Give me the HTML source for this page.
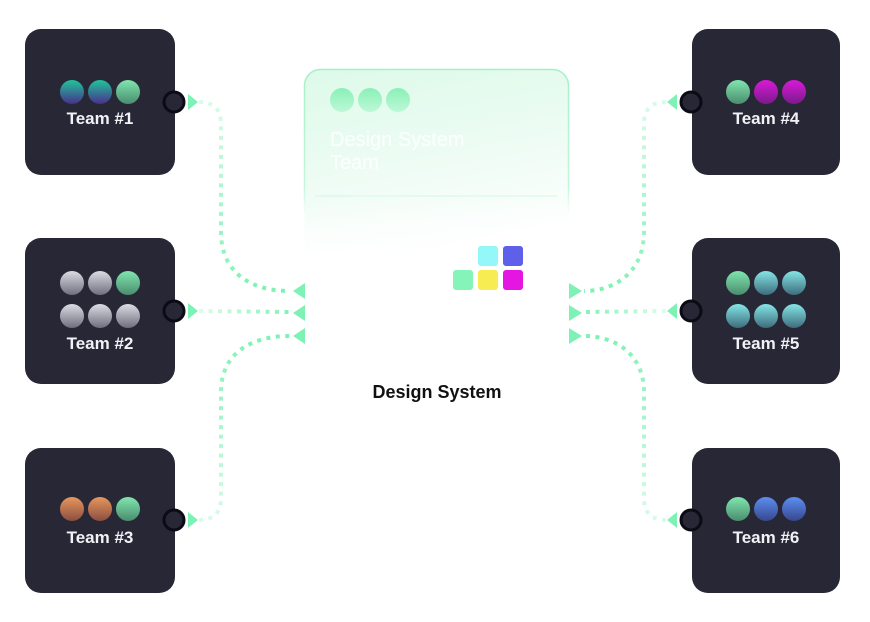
<!DOCTYPE html>
<html><head><meta charset="utf-8"><style>
html,body{margin:0;padding:0;background:#fff;}
svg{display:block;}
text{font-family:"Liberation Sans",sans-serif;}
</style></head><body>
<svg width="870" height="622" viewBox="0 0 870 622" xmlns="http://www.w3.org/2000/svg">
<defs>
  <linearGradient id="cardFill" x1="0" y1="0" x2="0.25" y2="1">
    <stop offset="0" stop-color="#ddfae9"/>
    <stop offset="0.55" stop-color="#eefcf4"/>
    <stop offset="1" stop-color="#ffffff"/>
  </linearGradient>
  <linearGradient id="cardStroke" gradientUnits="userSpaceOnUse" x1="0" y1="69" x2="0" y2="215">
    <stop offset="0" stop-color="#a4f0c8"/>
    <stop offset="0.8" stop-color="#c4f6dc"/>
    <stop offset="1" stop-color="#c4f6dc" stop-opacity="0"/>
  </linearGradient>
  <linearGradient id="fadeW" x1="0" y1="0" x2="0" y2="1">
    <stop offset="0" stop-color="#fff" stop-opacity="0"/>
    <stop offset="1" stop-color="#fff" stop-opacity="1"/>
  </linearGradient>
  <linearGradient id="gCard" x1="0" y1="0" x2="0" y2="1">
    <stop offset="0" stop-color="#8af0b6"/><stop offset="1" stop-color="#bdf8d8"/>
  </linearGradient>
  <linearGradient id="gTeal" x1="0" y1="0" x2="0" y2="1">
    <stop offset="0" stop-color="#20c49a"/><stop offset="1" stop-color="#4a2f8e"/>
  </linearGradient>
  <linearGradient id="gGreen" x1="0" y1="0" x2="0" y2="1">
    <stop offset="0" stop-color="#80e6ae"/><stop offset="1" stop-color="#4a8c6e"/>
  </linearGradient>
  <linearGradient id="gGray" x1="0" y1="0" x2="0" y2="1">
    <stop offset="0" stop-color="#dcdce4"/><stop offset="1" stop-color="#6e6e7e"/>
  </linearGradient>
  <linearGradient id="gOrange" x1="0" y1="0" x2="0" y2="1">
    <stop offset="0" stop-color="#e8965e"/><stop offset="1" stop-color="#8a4e40"/>
  </linearGradient>
  <linearGradient id="gMag" x1="0" y1="0" x2="0" y2="1">
    <stop offset="0" stop-color="#d91ad8"/><stop offset="1" stop-color="#7a1a8a"/>
  </linearGradient>
  <linearGradient id="gCyan" x1="0" y1="0" x2="0" y2="1">
    <stop offset="0" stop-color="#84e6e6"/><stop offset="1" stop-color="#3e6c7c"/>
  </linearGradient>
  <linearGradient id="gBlue" x1="0" y1="0" x2="0" y2="1">
    <stop offset="0" stop-color="#5c8ef0"/><stop offset="1" stop-color="#37468e"/>
  </linearGradient>
  <linearGradient id="l1" gradientUnits="userSpaceOnUse" x1="0" y1="102" x2="0" y2="291">
    <stop offset="0" stop-color="#7ef2b4" stop-opacity="0.3"/><stop offset="1" stop-color="#7ef2b4"/>
  </linearGradient>
  <linearGradient id="l3" gradientUnits="userSpaceOnUse" x1="0" y1="520" x2="0" y2="336">
    <stop offset="0" stop-color="#7ef2b4" stop-opacity="0.3"/><stop offset="1" stop-color="#7ef2b4"/>
  </linearGradient>
  <linearGradient id="l2" gradientUnits="userSpaceOnUse" x1="198" y1="0" x2="293" y2="0">
    <stop offset="0" stop-color="#7ef2b4" stop-opacity="0.25"/><stop offset="1" stop-color="#7ef2b4"/>
  </linearGradient>
  <linearGradient id="r2" gradientUnits="userSpaceOnUse" x1="666" y1="0" x2="582" y2="0">
    <stop offset="0" stop-color="#7ef2b4" stop-opacity="0.25"/><stop offset="1" stop-color="#7ef2b4"/>
  </linearGradient>
</defs>

<!-- center card -->
<rect x="304.5" y="69.5" width="264" height="200" rx="16" fill="url(#cardFill)" stroke="url(#cardStroke)" stroke-width="1.5"/>
<line x1="315" y1="196" x2="557" y2="196" stroke="#d4f8e6" stroke-width="1"/>
<circle cx="342" cy="100" r="12" fill="url(#gCard)"/>
<circle cx="370" cy="100" r="12" fill="url(#gCard)"/>
<circle cx="398" cy="100" r="12" fill="url(#gCard)"/>
<text x="330" y="146" font-size="20" fill="#ffffff" fill-opacity="0.9">Design System</text>
<text x="330" y="169" font-size="20" fill="#ffffff" fill-opacity="0.9">Team</text>
<rect x="300" y="200" width="275" height="72" fill="url(#fadeW)"/>
<rect x="300" y="256" width="275" height="30" fill="#fff"/>

<!-- block icon -->
<rect x="478" y="246" width="20" height="20" rx="3" fill="#94f8f8"/>
<rect x="503" y="246" width="20" height="20" rx="3" fill="#5e60ea"/>
<rect x="453" y="270" width="20" height="20" rx="3" fill="#84f4b8"/>
<rect x="478" y="270" width="20" height="20" rx="3" fill="#f7ec52"/>
<rect x="503" y="270" width="20" height="20" rx="3" fill="#e616e2"/>
<text x="437" y="398" font-size="18" font-weight="bold" fill="#111" text-anchor="middle">Design System</text>

<!-- connectors -->
<g fill="none" stroke-width="4" stroke-dasharray="4 5.5">
  <path d="M199,102 Q221,102 221,124 L221,232 C221,272 250,291 290,291" stroke="url(#l1)"/>
  <path d="M199,311 L290,312" stroke="url(#l2)"/>
  <path d="M199,520 Q221,520 221,498 L221,392 C221,354 250,336 290,336" stroke="url(#l3)"/>
  <path d="M666,102 Q644,102 644,124 L644,232 C644,272 615,291 584,291" stroke="url(#l1)"/>
  <path d="M666,311 L584,312" stroke="url(#r2)"/>
  <path d="M666,520 Q644,520 644,498 L644,392 C644,354 615,336 584,336" stroke="url(#l3)"/>
</g>
<g fill="#7ef2b4">
  <polygon points="293,291 305,283 305,299"/>
  <polygon points="293,313 305,305 305,321"/>
  <polygon points="293,336 305,328 305,344"/>
  <polygon points="582,291 569,283 569,299"/>
  <polygon points="582,313 569,305 569,321"/>
  <polygon points="582,336 569,328 569,344"/>
  <polygon points="188,94 198,102 188,110"/>
  <polygon points="188,303 198,311 188,319"/>
  <polygon points="188,512 198,520 188,528"/>
  <polygon points="677,94 667,102 677,110"/>
  <polygon points="677,303 667,311 677,319"/>
  <polygon points="677,512 667,520 677,528"/>
</g>

<!-- team boxes -->
<g fill="#272735">
  <rect x="25" y="29" width="150" height="146" rx="16"/>
  <rect x="25" y="238" width="150" height="146" rx="16"/>
  <rect x="25" y="448" width="150" height="145" rx="16"/>
  <rect x="692" y="29" width="148" height="146" rx="16"/>
  <rect x="692" y="238" width="148" height="146" rx="16"/>
  <rect x="692" y="448" width="148" height="145" rx="16"/>
</g>

<circle cx="72" cy="92" r="12" fill="url(#gTeal)"/>
<circle cx="100" cy="92" r="12" fill="url(#gTeal)"/>
<circle cx="128" cy="92" r="12" fill="url(#gGreen)"/>
<text x="100" y="124" font-size="17" font-weight="bold" fill="#f2f2f6" text-anchor="middle">Team #1</text>

<circle cx="72" cy="283" r="12" fill="url(#gGray)"/>
<circle cx="100" cy="283" r="12" fill="url(#gGray)"/>
<circle cx="128" cy="283" r="12" fill="url(#gGreen)"/>
<circle cx="72" cy="316" r="12" fill="url(#gGray)"/>
<circle cx="100" cy="316" r="12" fill="url(#gGray)"/>
<circle cx="128" cy="316" r="12" fill="url(#gGray)"/>
<text x="100" y="349" font-size="17" font-weight="bold" fill="#f2f2f6" text-anchor="middle">Team #2</text>

<circle cx="72" cy="509" r="12" fill="url(#gOrange)"/>
<circle cx="100" cy="509" r="12" fill="url(#gOrange)"/>
<circle cx="128" cy="509" r="12" fill="url(#gGreen)"/>
<text x="100" y="543" font-size="17" font-weight="bold" fill="#f2f2f6" text-anchor="middle">Team #3</text>

<circle cx="738" cy="92" r="12" fill="url(#gGreen)"/>
<circle cx="766" cy="92" r="12" fill="url(#gMag)"/>
<circle cx="794" cy="92" r="12" fill="url(#gMag)"/>
<text x="766" y="124" font-size="17" font-weight="bold" fill="#f2f2f6" text-anchor="middle">Team #4</text>

<circle cx="738" cy="283" r="12" fill="url(#gGreen)"/>
<circle cx="766" cy="283" r="12" fill="url(#gCyan)"/>
<circle cx="794" cy="283" r="12" fill="url(#gCyan)"/>
<circle cx="738" cy="316" r="12" fill="url(#gCyan)"/>
<circle cx="766" cy="316" r="12" fill="url(#gCyan)"/>
<circle cx="794" cy="316" r="12" fill="url(#gCyan)"/>
<text x="766" y="349" font-size="17" font-weight="bold" fill="#f2f2f6" text-anchor="middle">Team #5</text>

<circle cx="738" cy="509" r="12" fill="url(#gGreen)"/>
<circle cx="766" cy="509" r="12" fill="url(#gBlue)"/>
<circle cx="794" cy="509" r="12" fill="url(#gBlue)"/>
<text x="766" y="543" font-size="17" font-weight="bold" fill="#f2f2f6" text-anchor="middle">Team #6</text>

<g fill="#272735" stroke="#0b0b16" stroke-width="3">
  <circle cx="174" cy="102" r="10"/>
  <circle cx="174" cy="311" r="10"/>
  <circle cx="174" cy="520" r="10"/>
  <circle cx="691" cy="102" r="10"/>
  <circle cx="691" cy="311" r="10"/>
  <circle cx="691" cy="520" r="10"/>
</g>
</svg>
</body></html>
